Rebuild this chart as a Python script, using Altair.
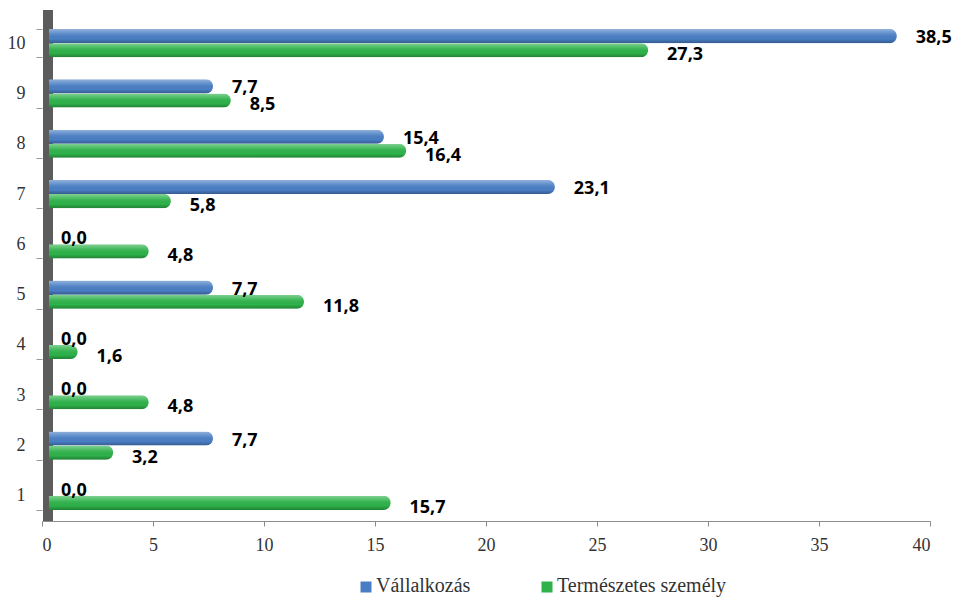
import altair as alt
import pandas as pd

# Categories (bottom to top) and the two series, in percent
categories = ["1", "2", "3", "4", "5", "6", "7", "8", "9", "10"]
vallalkozas = [0.0, 7.7, 0.0, 0.0, 7.7, 0.0, 23.1, 15.4, 7.7, 38.5]
termeszetes = [15.7, 3.2, 4.8, 1.6, 11.8, 4.8, 5.8, 16.4, 8.5, 27.3]
series = ["Vállalkozás", "Természetes személy"]
colors = ["#4A7EC4", "#2EB24A"]
x_ticks = [0, 5, 10, 15, 20, 25, 30, 35, 40]

rows = []
for i, cat in enumerate(categories):
    for name, vals in zip(series, [vallalkozas, termeszetes]):
        v = vals[i]
        rows.append({
            "kategoria": cat,
            "sorozat": name,
            "ertek": v,
            "felirat": f"{v:.1f}".replace(".", ","),
        })
df = pd.DataFrame(rows)
legend_df = pd.DataFrame({"sorozat": series})

W, H = 888, 503
SERIF = "Times New Roman, Liberation Serif, serif"

color_scale = alt.Scale(domain=series, range=colors)

y_enc = alt.Y(
    "kategoria:N",
    sort=categories[::-1],
    scale=alt.Scale(paddingInner=0.44, paddingOuter=0.22),
    axis=alt.Axis(
        title=None, labelFont=SERIF, labelFontSize=18, labelColor="#333333",
        labelAngle=0, tickBand="extent", tickSize=6, tickColor="#9a9a9a",
        domain=False, labelPadding=11,
    ),
)
yoff_enc = alt.YOffset(
    "sorozat:N", sort=series, scale=alt.Scale(paddingInner=0, paddingOuter=0)
)
x_enc = alt.X(
    "ertek:Q",
    scale=alt.Scale(domain=[0, 40], nice=False),
    axis=alt.Axis(
        title=None, values=x_ticks, grid=False, labelFont=SERIF,
        labelFontSize=18, labelColor="#333333", domainColor="#8c8c8c",
        tickColor="#8c8c8c", tickSize=5, labelPadding=10,
    ),
)

base = alt.Chart(df)

# dark side wall of the 3D plot area
wall = base.mark_rule(color="#5c5c5c", strokeWidth=10, xOffset=6).encode(
    x=alt.datum(0), y=alt.value(-8), y2=alt.value(H)
)

bar_style = dict(cornerRadiusEnd=7, yOffset=-5, xOffset=7, x2Offset=2)

bars = base.mark_bar(**bar_style).encode(
    x=x_enc,
    y=y_enc,
    yOffset=yoff_enc,
    color=alt.Color("sorozat:N", sort=series, scale=color_scale, legend=None),
)

# cylindrical shading on top of the bars
shine = alt.LinearGradient(
    gradient="linear", x1=0, y1=0, x2=0, y2=1,
    stops=[
        alt.GradientStop(offset=0, color="rgba(255,255,255,0.40)"),
        alt.GradientStop(offset=0.35, color="rgba(255,255,255,0.10)"),
        alt.GradientStop(offset=0.7, color="rgba(0,0,0,0.0)"),
        alt.GradientStop(offset=1, color="rgba(0,0,0,0.28)"),
    ],
)
shade = base.mark_bar(color=shine, **bar_style).encode(
    x="ertek:Q", y=y_enc, yOffset=yoff_enc
)

label_style = dict(align="left", font="Open Sans", fontWeight="bold",
                   fontSize=18, color="#000000", dx=19, yOffset=-5)
labels_v = base.transform_filter(alt.datum.sorozat == series[0]).mark_text(
    dy=2, **label_style
).encode(x="ertek:Q", y=y_enc, yOffset=yoff_enc, text="felirat:N")
labels_t = base.transform_filter(alt.datum.sorozat == series[1]).mark_text(
    dy=5, **label_style
).encode(x="ertek:Q", y=y_enc, yOffset=yoff_enc, text="felirat:N")

# legend below the x axis: square swatch + serif label per series
legend_layers = []
for name, sx in zip(series, [324, 505]):
    item = alt.Chart(legend_df).transform_filter(alt.datum.sorozat == name)
    legend_layers.append(
        item.mark_square(size=121, opacity=1).encode(
            x=alt.value(sx), y=alt.value(569),
            color=alt.Color("sorozat:N", scale=color_scale, legend=None),
        )
    )
    legend_layers.append(
        item.mark_text(align="left", baseline="middle", font=SERIF,
                       fontSize=20, color="#333333").encode(
            x=alt.value(sx + 10), y=alt.value(568), text="sorozat:N"
        )
    )

chart = alt.layer(wall, bars, shade, labels_v, labels_t, *legend_layers).properties(
    width=W,
    height=H,
    padding={"left": 42, "top": 18, "right": 27, "bottom": 77},
    autosize=alt.AutoSizeParams(type="none"),
    background="white",
).configure_view(stroke=None)

chart.save("out.html", embed_options={"renderer": "svg", "actions": False})
